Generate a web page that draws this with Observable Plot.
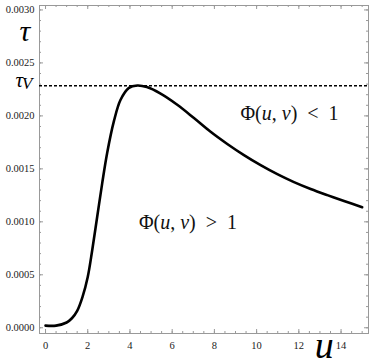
<!DOCTYPE html>
<html><head><meta charset="utf-8">
<script src="https://cdn.jsdelivr.net/npm/d3@7"></script>
<script src="https://cdn.jsdelivr.net/npm/@observablehq/plot@0.6"></script>
<style>
body{margin:0;background:#fff}
</style>
</head><body><div id="chart"></div>
<script>
const uValues   = [0, 0.5, 1, 1.25, 1.5, 1.75, 2, 2.21, 2.45, 2.69, 2.92, 3.24, 3.55, 3.95, 4.35, 4.8, 5.45, 6.24, 7.03, 7.82, 8.61, 9.4, 10.19, 10.98, 11.77, 12.56, 13.35, 14.14, 15.0];
const tauValues = [0.00002, 0.00002, 0.00005, 0.00009, 0.00016, 0.00029, 0.00048, 0.00073, 0.00105, 0.00137, 0.00165, 0.00195, 0.00215, 0.002265, 0.002287, 0.002272, 0.00221, 0.002105, 0.00198, 0.00185, 0.001735, 0.00163, 0.001535, 0.00145, 0.001375, 0.00131, 0.001252, 0.001197, 0.001138];
const tauV = 0.002284;
const xMajor = [0, 2, 4, 6, 8, 10, 12, 14];
const xMinor = d3.range(0, 15.01, 0.5);
const yMajor = [0, 0.0005, 0.001, 0.0015, 0.002, 0.0025, 0.003];
const yMinor = d3.range(0, 0.00301, 0.0001);
const labelLess = "Φ(u, v)\u00a0 <\u00a0 1";
const labelMore = "Φ(u, v)\u00a0 >\u00a0 1";

const curve = uValues.map((u, i) => ({u, tau: tauValues[i]}));
const serif = "Liberation Serif";
const grey = "#999";

const plot = Plot.plot({
  width: 374, height: 364,
  marginLeft: 39, marginRight: 6, marginTop: 5, marginBottom: 31,
  style: {fontFamily: serif, background: "#fff"},
  x: {domain: [-0.285, 15.3], axis: null, label: null},
  y: {domain: [-0.000054, 0.003042], axis: null, label: null},
  marks: [
    Plot.frame({stroke: grey}),
    Plot.tickX(xMinor, {x: d => d, insetTop: 326, stroke: grey}),
    Plot.tickX(xMajor, {x: d => d, insetTop: 324, stroke: grey}),
    Plot.tickX(xMinor, {x: d => d, insetBottom: 326, stroke: grey}),
    Plot.tickX(xMajor, {x: d => d, insetBottom: 324, stroke: grey}),
    Plot.tickY(yMinor, {y: d => d, insetRight: 327, stroke: grey}),
    Plot.tickY(yMajor, {y: d => d, insetRight: 325, stroke: grey}),
    Plot.tickY(yMinor, {y: d => d, insetLeft: 327, stroke: grey}),
    Plot.tickY(yMajor, {y: d => d, insetLeft: 325, stroke: grey}),
    Plot.axisX(xMajor, {anchor: "bottom", label: null, tickSize: 0, tickPadding: 8, fontSize: 10.5, fill: "#222"}),
    Plot.axisY(yMajor, {anchor: "left", label: null, tickSize: 0, tickPadding: 5, fontSize: 10.5, fill: "#222", tickFormat: d3.format(".4f")}),
    Plot.ruleY([tauV], {stroke: "#000", strokeWidth: 1.5, strokeDasharray: "3,2"}),
    Plot.line(curve, {x: "u", y: "tau", stroke: "#000", strokeWidth: 2.6, curve: "catmull-rom"}),
    Plot.text([labelLess], {x: 11.56, y: 0.00202, text: d => d, fontSize: 20, fill: "#111", className: "phi"}),
    Plot.text([labelMore], {x: 6.75, y: 0.000994, text: d => d, fontSize: 20, fill: "#111", className: "phi"}),
    Plot.text(["τ"], {y: [0.0028], text: d => d, frameAnchor: "left", dx: -20, fontSize: 30, fontStyle: "italic", fill: "#000"}),
    Plot.text(["τV"], {y: [tauV], text: d => d, frameAnchor: "left", dx: -24, dy: -6, fontSize: 21, fontStyle: "italic", fill: "#000", className: "tauv"}),
    Plot.text(["u"], {x: [13.2], text: d => d, frameAnchor: "bottom", dy: 24, fontSize: 38, fontStyle: "italic", fill: "#000"})
  ]
});

// italicise the variables inside the Φ labels
d3.select(plot).selectAll("g.phi text").each(function() {
  const t = d3.select(this);
  const s = t.text();
  const parts = [["Φ(", false], ["u", true], [", ", false], ["v", true], [s.slice(s.indexOf(")")), false]];
  t.text(null);
  parts.forEach(([str, it]) => {
    const ts = t.append("tspan").text(str);
    if (it) ts.attr("font-style", "italic");
  });
});
// subscript V
d3.select(plot).selectAll("g.tauv text").each(function() {
  const t = d3.select(this);
  t.text(null);
  t.append("tspan").text("τ");
  t.append("tspan").attr("font-size", 17).attr("dx", -1).attr("dy", 2).text("V");
});
d3.select(plot).selectAll("text").style("font-family", "'Liberation Serif', serif");

document.getElementById("chart").append(plot);
</script>
</body></html>
